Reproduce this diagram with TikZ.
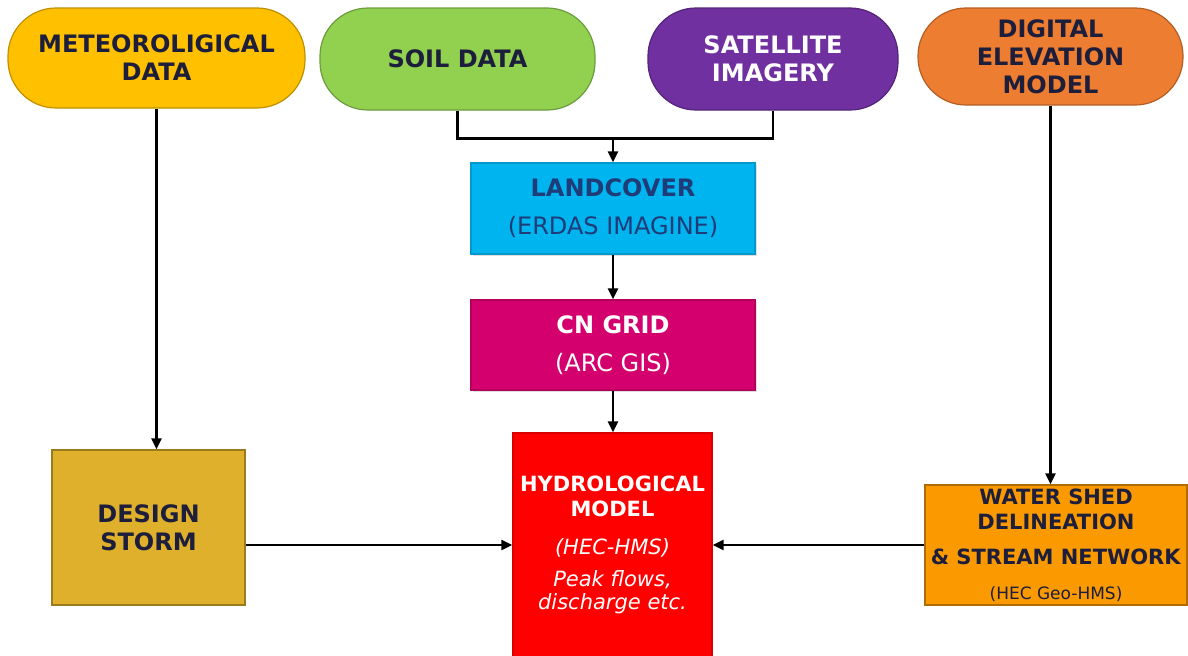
\documentclass[tikz,border=0pt]{standalone}
\usepackage{fontspec}
\setmainfont{DejaVu Sans}
\usetikzlibrary{arrows.meta,shadows}

\definecolor{inkdark}{HTML}{1C1E3C}
\definecolor{inkblue}{HTML}{1F3C78}
\definecolor{metfill}{HTML}{FFC000}
\definecolor{soilfill}{HTML}{92D050}
\definecolor{satfill}{HTML}{7030A0}
\definecolor{demfill}{HTML}{ED7D31}
\definecolor{landfill}{HTML}{00B4F0}
\definecolor{cnfill}{HTML}{D4006E}
\definecolor{hydrofill}{HTML}{FF0000}
\definecolor{stormfill}{HTML}{DFB02C}
\definecolor{shedfill}{HTML}{FA9A00}

\begin{document}
\begin{tikzpicture}[x=0.5pt,y=-0.5pt]
\useasboundingbox (0,0) rectangle (1188,655);
\tikzset{
  pill/.style={rectangle, rounded corners=24pt, line width=0.6pt, inner sep=0pt,
    align=center, font=\bfseries\fontsize{12}{14}\selectfont},
  box/.style={rectangle, line width=0.6pt, inner sep=0pt, align=center},
  link/.style={line width=1.2pt, draw=black},
  arrow/.style={link, -{Triangle[length=5.5pt,width=5pt]}},
  softshadow/.style={drop shadow={opacity=0.25, shadow xshift=1pt, shadow yshift=-1pt}}
}

% data sources
\node[pill, fill=metfill, draw=metfill!75!black, text=inkdark,
      minimum width=148.5pt, minimum height=50pt] (met) at (156.5,58)
      {METEOROLIGICAL\\DATA};
\node[pill, fill=soilfill, draw=soilfill!75!black, text=inkdark,
      minimum width=137.5pt, minimum height=51pt] (soil) at (457.5,59)
      {SOIL DATA};
\node[pill, fill=satfill, draw=satfill!75!black, text=white,
      minimum width=125pt, minimum height=51pt] (sat) at (773,59)
      {SATELLITE\\IMAGERY};
\node[pill, fill=demfill, draw=demfill!75!black, text=inkdark,
      minimum width=132.5pt, minimum height=48.5pt] (dem) at (1050.5,56.5)
      {DIGITAL\\ELEVATION\\MODEL};

% processing steps
\node[box, softshadow, fill=landfill, draw=landfill!85!black, text=inkblue,
      minimum width=142pt, minimum height=45.5pt,
      font=\fontsize{12}{19}\selectfont] (land) at (613,208.5)
      {\textbf{LANDCOVER}\\(ERDAS IMAGINE)};
\node[box, softshadow, fill=cnfill, draw=cnfill!85!black, text=white,
      minimum width=142pt, minimum height=45pt,
      font=\fontsize{12}{19}\selectfont] (cn) at (613,345)
      {\textbf{CN GRID}\\(ARC GIS)};
\node[box, fill=hydrofill, draw=hydrofill!85!black, text=white,
      minimum width=99.5pt, minimum height=112pt,
      font=\fontsize{10.5}{12.5}\selectfont] (hydro) at (612.5,545)
      {\textbf{HYDROLOGICAL}\\\textbf{MODEL}\\[6.5pt]
       \itshape (HEC-HMS)\\[3.5pt]
       \itshape Peak flows,\\[-1pt]
       \itshape discharge etc.};
\node[box, fill=stormfill, draw=stormfill!70!black, text=inkdark,
      minimum width=96.5pt, minimum height=77.5pt,
      font=\bfseries\fontsize{12}{14}\selectfont] (storm) at (148.5,527.5)
      {DESIGN\\STORM};
\node[box, fill=shedfill, draw=shedfill!70!black, text=inkdark,
      minimum width=131pt, minimum height=60pt,
      font=\fontsize{10.5}{12.5}\selectfont] (shed) at (1056,545)
      {\textbf{WATER SHED}\\\textbf{DELINEATION}\\[5pt]
       \textbf{\& STREAM NETWORK}\\[5pt]
       {\fontsize{8.5}{10}\selectfont (HEC Geo-HMS)}};

% connectors
\coordinate (join) at (613,138);
\draw[link] (soil.south) -- ++(0,28) -| (sat.south);
\draw[arrow] (join) -- (land.north);
\draw[arrow] (land.south) -- (cn.north);
\draw[arrow] (cn.south) -- (cn.south |- hydro.north);
\draw[arrow] (met.south) -- (met.south |- storm.north);
\draw[arrow] (dem.south) -- (dem.south |- shed.north);
\draw[arrow] (storm.east |- shed.west) -- (shed.west -| hydro.west);
\draw[arrow] (shed.west) -- (shed.west -| hydro.east);
\end{tikzpicture}
\end{document}
